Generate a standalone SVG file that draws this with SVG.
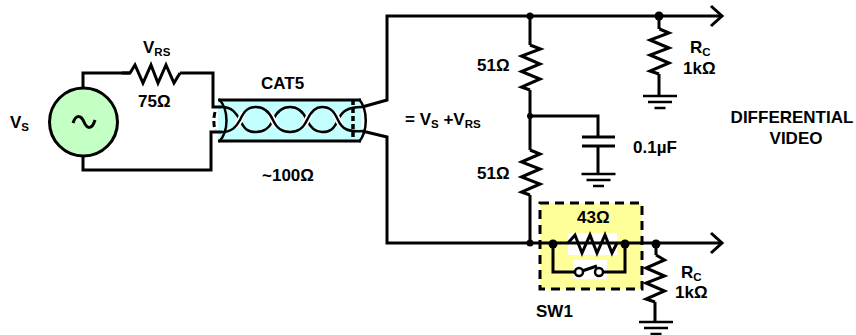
<svg xmlns="http://www.w3.org/2000/svg" width="856" height="335" viewBox="0 0 856 335">
<style>
.w{fill:none;stroke:#000;stroke-width:3;stroke-linejoin:miter}
.t{fill:none;stroke:#000;stroke-width:2.500}
text{font-family:"Liberation Sans",Arial,sans-serif;font-weight:700;font-size:17px;fill:#000}
.s{font-size:11.500px}
.m{text-anchor:middle}
</style>
<defs>
<g id="gnd"><path d="M-17 0H17M-12 6H12M-5.500 12H5.500" fill="none" stroke="#000" stroke-width="2.500"/></g>
<clipPath id="cross"><rect x="235" y="112" width="10" height="16"/><rect x="268" y="112" width="10" height="16"/><rect x="302" y="112" width="10" height="16"/><rect x="333" y="112" width="10" height="16"/></clipPath>
</defs>
<rect width="856" height="335" fill="#fff"/>
<g id="sw1-box">
<rect x="540" y="203" width="102" height="86" fill="#ffff99" stroke="#000" stroke-width="3" stroke-dasharray="9 6"/>
<rect x="568" y="233" width="49" height="22" fill="#fff"/>
<rect x="573" y="260" width="34" height="19" fill="#fff"/>
</g>
<g id="cable">
<rect x="218" y="100" width="143" height="41" fill="#c4ffff"/>
<path class="w" d="M218 100H361M218 141H361"/>
<path class="t" d="M219 99C229 110 229 131 219 142M359 99C368 110 368 131 359 142"/>
<path d="M215 112C213.500 118 213.500 124 215 130" fill="none" stroke="#000" stroke-width="3" stroke-dasharray="6 3"/>
<path d="M353 100V141" fill="none" stroke="#000" stroke-width="3.500" stroke-dasharray="5 3"/>
<path class="t" d="M222 107C232 107 236 113 240 120C244 129 248 132 256 132C264 132 269 129 273 120C277 111 282 107 290 107C298 107 303 111 307 120C311 129 316 132 322 132C330 132 334 129 338 120C342 111 348 107 362 107"/>
<path clip-path="url(#cross)" d="M222 132C232 132 236 127 240 120C244 111 248 107 256 107C264 107 269 111 273 120C277 129 282 132 290 132C298 132 303 129 307 120C311 111 316 107 322 107C330 107 334 111 338 120C342 129 348 132 362 131" fill="none" stroke="#fff" stroke-width="6"/>
<path class="t" d="M222 132C232 132 236 127 240 120C244 111 248 107 256 107C264 107 269 111 273 120C277 129 282 132 290 132C298 132 303 129 307 120C311 111 316 107 322 107C330 107 334 111 338 120C342 129 348 132 362 131"/>
</g>
<g id="connectors" class="w">
<path d="M83 88V73H130M180 73H213V107H222"/>
<path d="M83 156V170H211V132H222"/>
<path d="M362 107L387 100V16H721"/>
<path d="M362 131L387 137V243H721"/>
<path d="M711 6L722 16L711 26M711 233L722 243L711 253"/>
<path d="M530 16V45M530 90V150M530 116H598V137M598 146V174M530 195V243"/>
<path d="M659 16V29M659 74V96M656 243V255M655 302V322"/>
<path d="M553 244V272H575M603 272H625V244"/>
</g>
<g id="vs">
<circle cx="83.500" cy="122" r="34" fill="#c4ffc4" stroke="#000" stroke-width="3"/>
<path d="M73 123C76 114 81 115 84 122C87 129 92 130 95 120" fill="none" stroke="#000" stroke-width="3"/>
<text x="10" y="128">V<tspan class="s" dy="3">S</tspan></text>
</g>
<g id="rs">
<path class="w" d="M122 73H130L135 65L143 83L151 65L158 83L166 65L174 83L180 73"/>
<text x="143" y="53">V<tspan class="s" dy="3">RS</tspan></text>
<text x="138" y="107">75Ω</text>
</g>
<g id="cat5-labels">
<text x="261" y="89">CAT5</text>
<text x="262" y="181">~100Ω</text>
<text x="405" y="125">= V<tspan class="s" dy="3">S</tspan><tspan dy="-3"> +V</tspan><tspan class="s" dy="3">RS</tspan></text>
</g>
<g id="r51a">
<path class="w" d="M530 45L540.500 49L521.500 56L540 64L521.500 71.500L540 79L521.500 87L530 90"/>
<text x="477" y="71">51Ω</text>
</g>
<g id="r51b">
<path class="w" d="M530 150L540 154L521.500 162L540 169L521.500 177L540 184L521.500 192L530 195"/>
<text x="477" y="179">51Ω</text>
</g>
<g id="c1">
<path class="w" d="M582 137H615M582 146H615"/>
<use href="#gnd" x="598.500" y="174"/>
<text x="633" y="153">0.1µF</text>
</g>
<g id="rc1">
<path class="w" d="M659.500 29L669 33L650 40L669 48L650 55L669 63L650 71L659 74"/>
<use href="#gnd" x="660" y="96"/>
<text x="690" y="53">R<tspan class="s" dy="3">C</tspan></text>
<text x="683" y="74">1kΩ</text>
</g>
<g id="sw1">
<path class="w" d="M568 243L575 235L582 253L590 235L597 253L605 235L612 253L617 243"/>
<path class="w" d="M582 271L597 266"/>
<circle cx="579" cy="272" r="4" fill="#fff" stroke="#000" stroke-width="2.500"/>
<circle cx="599" cy="272" r="4" fill="#fff" stroke="#000" stroke-width="2.500"/>
<text x="577" y="223">43Ω</text>
<text x="536" y="317">SW1</text>
</g>
<g id="rc2">
<path class="w" d="M656 255L664.500 260L646 268L664.500 276L646 283L664.500 291L646 299L655 302"/>
<use href="#gnd" x="656" y="322"/>
<text x="681" y="278">R<tspan class="s" dy="3">C</tspan></text>
<text x="675" y="298">1kΩ</text>
</g>
<g id="dots">
<circle cx="530" cy="16" r="3.500"/><circle cx="659" cy="16" r="4.500"/><circle cx="530" cy="116" r="3"/>
<circle cx="530" cy="243" r="3.500"/><circle cx="553" cy="244" r="4.500"/><circle cx="625" cy="244" r="4.500"/><circle cx="656" cy="244" r="4.500"/>
</g>
<g id="title">
<text x="792" y="123" class="m">DIFFERENTIAL</text>
<text x="796" y="144" class="m">VIDEO</text>
</g>
</svg>
